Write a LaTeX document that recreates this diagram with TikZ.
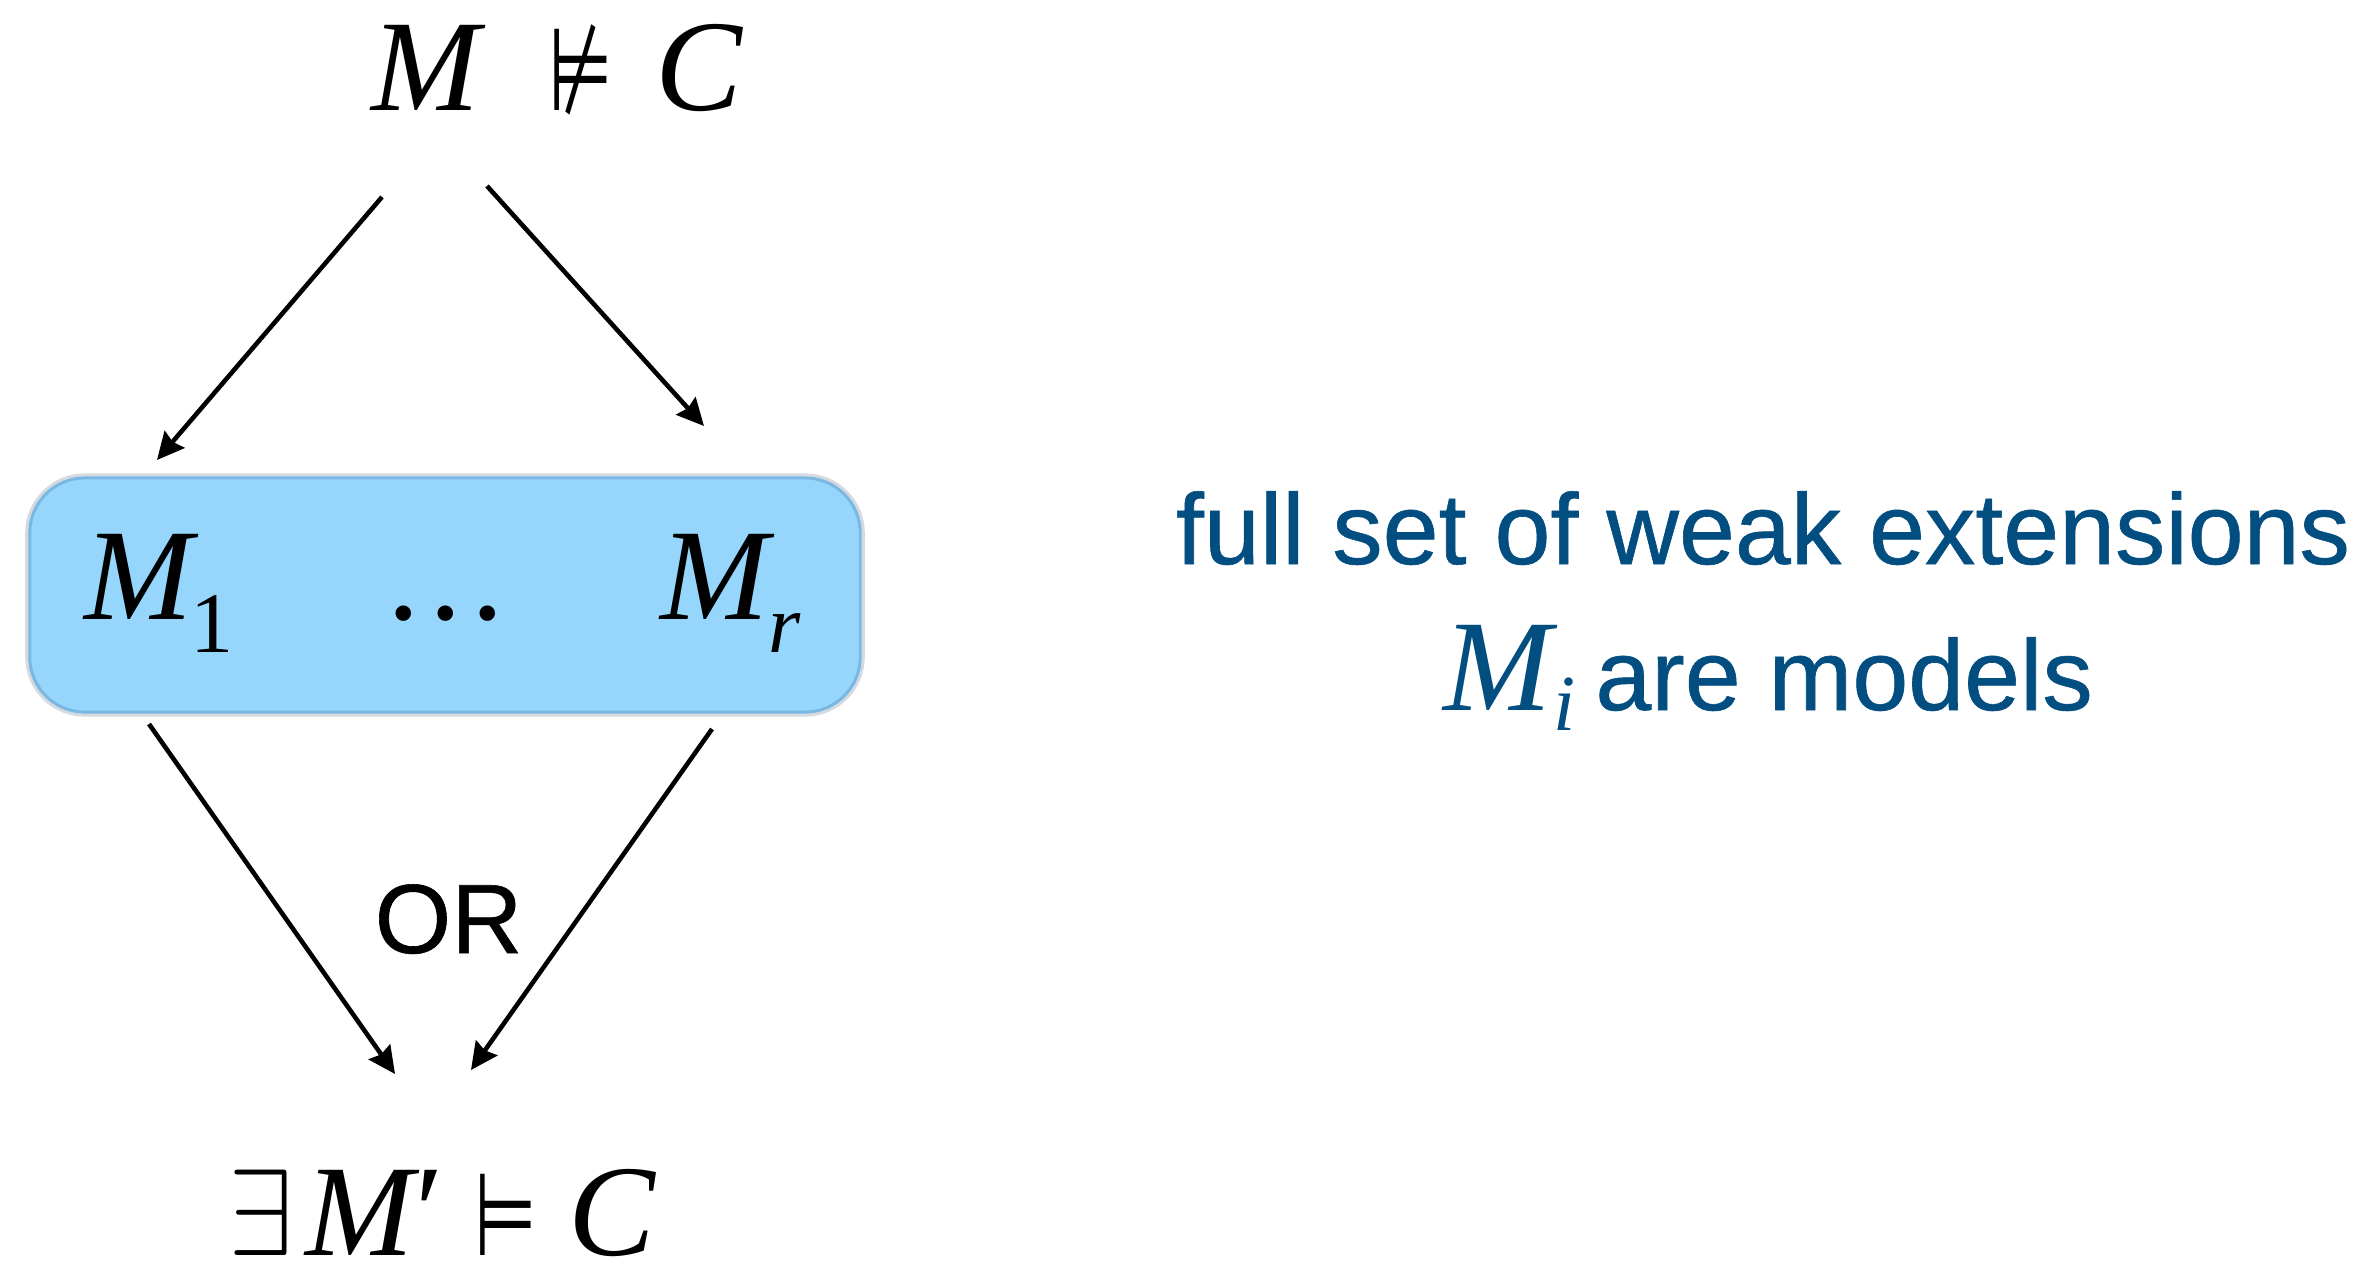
\RequirePackage{fix-cm}
\documentclass[tikz,border=0pt]{standalone}
\usepackage{graphicx}
\usepackage{fontspec}
\setmainfont{Liberation Serif}
\setsansfont{Liberation Sans}
\newfontfamily\symfont{DejaVu Sans}
\newfontfamily\helv[FakeBold=0.6]{Liberation Sans}
\usetikzlibrary{arrows.meta}
\definecolor{boxfill}{RGB}{150,214,252}
\definecolor{boxline}{RGB}{122,184,228}
\definecolor{boxhalo}{RGB}{212,218,224}
\definecolor{textblue}{RGB}{3,78,128}
\newcommand{\sym}[4]{\scalebox{#1}[#2]{\symfont\fontsize{#3}{36}\selectfont #4}}
\begin{document}
\begin{tikzpicture}[x=0.01cm,y=-0.01cm,
  arr/.style={line width=1.3pt,-{Stealth[length=0.27cm,width=0.26cm,inset=0.03cm]}},
  bigmath/.style={inner sep=0pt,anchor=base west,font=\fontsize{37}{40}\selectfont},
  bluetext/.style={inner sep=0pt,anchor=base,text=textblue,font=\helv\fontsize{28.6}{32}\selectfont},
  modelbox/.style={draw=boxline,line width=0.85pt,fill=boxfill,rounded corners=0.55cm,
    minimum width=8.3cm,minimum height=2.34cm,inner sep=0pt,
    preaction={draw=boxhalo,line width=2.6pt}}]
\useasboundingbox (0,0) rectangle (2366,1263);

% model box
\node[modelbox] (box) at (445,595) {};

% top formula
\node[bigmath,text height=26pt,text depth=2pt] (top) at (371,110)
  {\makebox[50.4pt][l]{\textit{M}}\makebox[30.2pt][l]{\sym{0.64}{1}{33}{⊭}}\textit{C}};

% box contents
\node[bigmath] (m1) at (84,619)
  {\textit{M}\kern-2.4pt\raisebox{-9.4pt}{\fontsize{24.5}{26}\selectfont 1}};
\node[bigmath] (dots) at (387,619) {.\hspace{2.7pt}.\hspace{2.7pt}.};
\node[bigmath] (mr) at (660,619)
  {\textit{M}\kern-2pt\raisebox{-9.4pt}{\fontsize{23.5}{26}\selectfont\textit{r}}};

% OR label
\node[inner sep=0pt,anchor=base west,font=\helv\fontsize{28}{32}\selectfont] (or) at (374,953) {OR};

% bottom formula
\node[bigmath,text height=26pt,text depth=1pt] (bot) at (228,1255)
  {\makebox[21.9pt][l]{\scalebox{0.95}[1]{\fontsize{35}{38}\selectfont$\exists$}}\makebox[31.3pt][l]{\textit{M}}\makebox[16.8pt][l]{′}\makebox[26.7pt][l]{\sym{0.62}{1}{33}{⊨}}\textit{C}};

% right-hand explanation
\node[bluetext] (line1) at (1763,564) {full set of weak extensions};
\node[bluetext] (line2) at (1768,710)
  {{\rmfamily\fontsize{37}{40}\selectfont\textit{M}\kern-1pt\raisebox{-5.7pt}{\fontsize{22.6}{24}\selectfont\textit{i}}}\hspace{5.5pt}are models};

% connector end points
\coordinate (a1s) at (382,197);
\coordinate (a1e) at (157,460);
\coordinate (a2s) at (487,186);
\coordinate (a2e) at (704,426);
\coordinate (a3s) at (149,724);
\coordinate (a3e) at (395,1074);
\coordinate (a4s) at (712,729);
\coordinate (a4e) at (471,1070);

\draw[arr] (a1s) -- (a1e);
\draw[arr] (a2s) -- (a2e);
\draw[arr] (a3s) -- (a3e);
\draw[arr] (a4s) -- (a4e);
\end{tikzpicture}
\end{document}
